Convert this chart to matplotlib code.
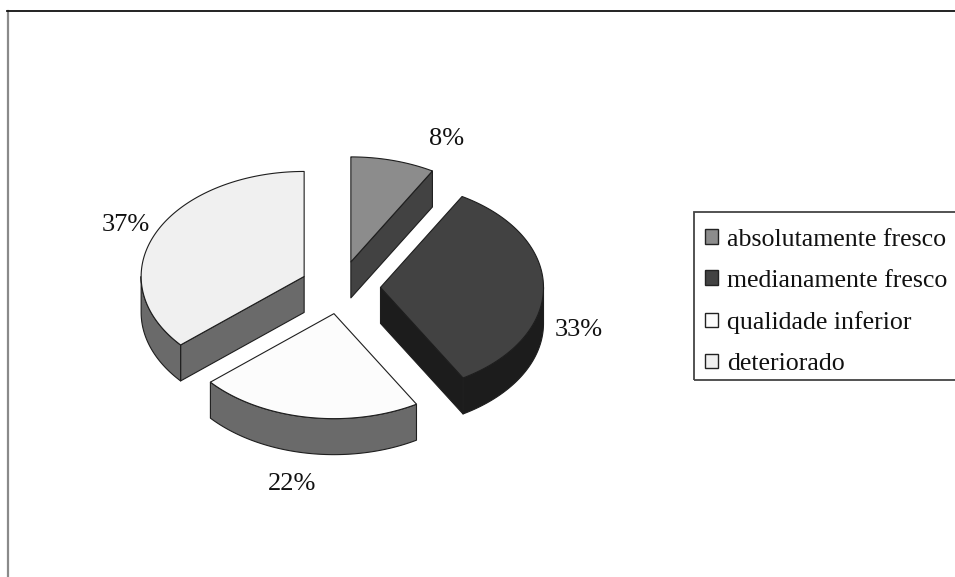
import numpy as np
import matplotlib
matplotlib.use("Agg")
import matplotlib.pyplot as plt
from matplotlib.patches import Polygon, Patch, Rectangle

categories = ["absolutamente fresco", "medianamente fresco", "qualidade inferior", "deteriorado"]
values = [8, 33, 22, 37]
top_colors = ["#8c8c8c", "#424242", "#fcfcfc", "#f0f0f0"]
side_colors = ["#424242", "#1c1c1c", "#6a6a6a", "#6a6a6a"]

# layout (pixels)
W, H = 955, 577
CX, CY = 340.5, 287.5  # pie centre
RX, RY = 163, 105      # ellipse radii
EX, EY = 40, 26.5      # explode distance
DEPTH = 36
LABEL_OFFSETS = [(96, -123), (198, 43), (-42, 170), (-178, -51)]
EDGE = "#1e1e1e"
# the 3-D view of the original chart shifts the sector boundaries slightly
VIEW_IN = [0, 25, 230, 360]
VIEW_OUT = [0, 26.2, 232.5, 360]

plt.rcParams["font.family"] = ["Liberation Serif", "DejaVu Serif"]
fig = plt.figure(figsize=(W / 100, H / 100), dpi=100, facecolor="white")
ax = fig.add_axes([7.5 / W, 0, 1 - 7.5 / W, (H - 11) / H])
ax.set_xlim(7.5, W)
ax.set_ylim(H, 11)
ax.set_xticks([])
ax.set_yticks([])
ax.spines["right"].set_visible(False)
ax.spines["bottom"].set_visible(False)
ax.spines["top"].set_color("#111111")
ax.spines["top"].set_linewidth(1.3)
ax.spines["left"].set_color("#8a8a8a")
ax.spines["left"].set_linewidth(1.6)


def pt(cx, cy, deg):
    t = np.radians(deg)
    return cx + RX * np.sin(t), cy - RY * np.cos(t)


def face(points, color, z):
    ax.add_patch(Polygon(points, closed=True, facecolor=color, edgecolor=EDGE,
                         linewidth=0.8, joinstyle="round", zorder=z))


edges = np.interp(np.concatenate([[0], np.cumsum(values)]) * 360 / sum(values), VIEW_IN, VIEW_OUT)
for i, v in enumerate(values):
    a0, a1 = edges[i], edges[i + 1]
    mid = np.radians((a0 + a1) / 2)
    cx = CX + EX * np.sin(mid)
    cy = CY - EY * np.cos(mid)
    z = 2 + i * 0.01
    for ang, vis in ((a0, np.sin(np.radians(a0)) < -1e-6), (a1, np.sin(np.radians(a1)) > 1e-6)):
        if vis:
            x, y = pt(cx, cy, ang)
            face([(cx, cy), (x, y), (x, y + DEPTH), (cx, cy + DEPTH)], side_colors[i], z)
    lo, hi = max(a0, 90), min(a1, 270)
    if hi > lo:
        ang = np.linspace(lo, hi, 80)
        xs, ys = pt(cx, cy, ang)
        face(np.r_[np.c_[xs, ys], np.c_[xs, ys + DEPTH][::-1]], side_colors[i], z)
    ang = np.linspace(a0, a1, 120)
    xs, ys = pt(cx, cy, ang)
    face(np.r_[[(cx, cy)], np.c_[xs, ys]], top_colors[i], z + 0.5)
    dx, dy = LABEL_OFFSETS[i]
    ax.text(cx + dx, cy + dy, f"{v}%", fontsize=19, color="#111111",
            ha="center", va="center", zorder=5)

# legend box runs off the right edge of the picture
fig.add_artist(Rectangle((694 / W, 1 - 380 / H), 280 / W, 168 / H, transform=fig.transFigure,
                         facecolor="none", edgecolor="#444444", linewidth=1.3, zorder=4))
handles = [Patch(facecolor=c, edgecolor="#222222", linewidth=1.0) for c in top_colors]
leg = fig.legend(handles, categories, loc="upper left",
                 bbox_to_anchor=(692 / W, 1 - 216 / H),
                 ncols=1, borderaxespad=0, fontsize=18.6,
                 handlelength=0.5, handleheight=0.5, handletextpad=0.36,
                 labelspacing=0.74, borderpad=0.5, frameon=False, labelcolor="#111111")
leg.set_zorder(5)

fig.savefig("out.png", dpi=100, facecolor="white")
